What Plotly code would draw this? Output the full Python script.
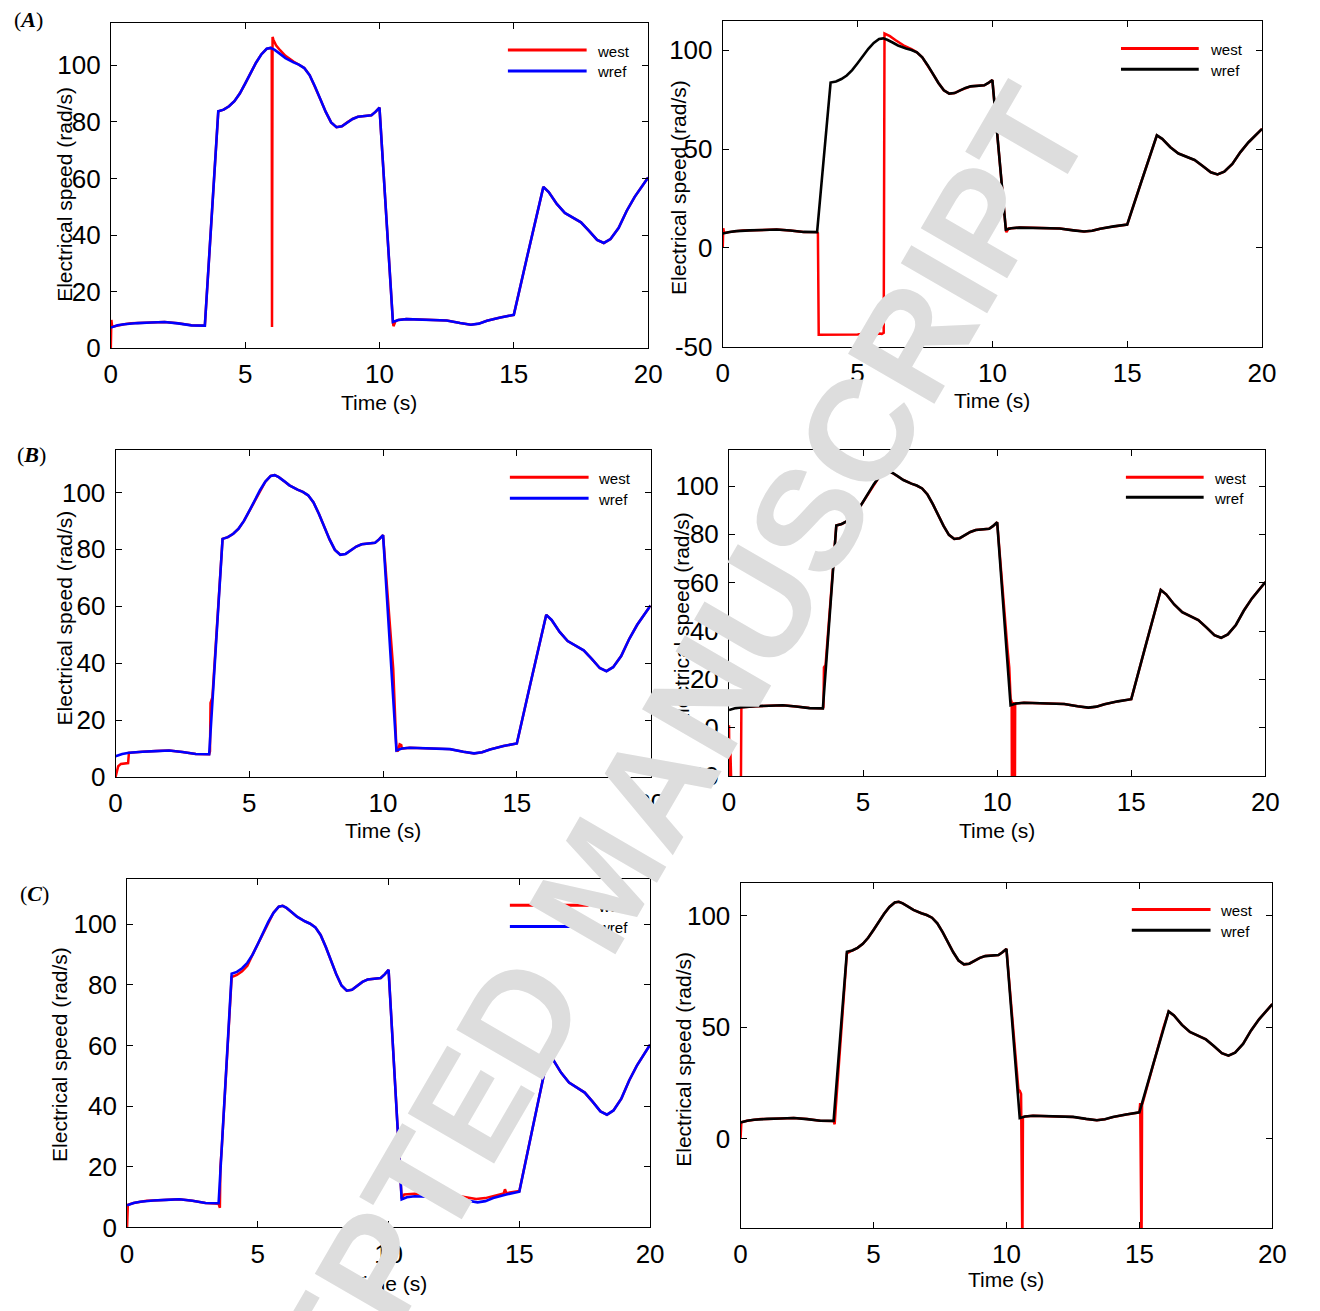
import plotly.graph_objects as go

W, H = 1320, 1311

# ---------------- data ----------------
t_ref = [0, 0.25, 0.5, 0.75, 1.0, 1.5, 2.0, 2.5, 3.0, 3.5,
         4.0, 4.2, 4.4, 4.6, 4.8, 5.0, 5.2, 5.4, 5.6, 5.8,
         5.95, 6.1, 6.3, 6.5, 6.8, 7.0, 7.2, 7.4, 7.6, 7.8,
         8.0, 8.2, 8.4, 8.6, 8.8, 9.0, 9.2, 9.5, 9.7, 9.85,
         10.0, 10.5, 10.7, 11.0, 11.5, 12.0, 12.5, 13.0, 13.4, 13.7,
         14.0, 14.5, 15.0, 15.5, 15.9, 16.1, 16.3, 16.6, 16.9, 17.2,
         17.5, 17.8, 18.1, 18.35, 18.6, 18.9, 19.2, 19.5, 19.8, 20.0]
wref = [7.3, 8.1, 8.5, 8.8, 8.9, 9.1, 9.3, 8.8, 8.1, 8.0,
        83.7, 84.3, 85.5, 87.3, 90.0, 93.5, 97.2, 100.8, 103.8, 105.8,
        106.1, 105.4, 104.0, 102.5, 101.0, 100.2, 99.0, 96.5, 92.5, 88.0,
        83.5, 79.8, 78.1, 78.4, 79.8, 81.0, 81.8, 82.1, 82.3, 83.5,
        85.0, 9.3, 10.0, 10.3, 10.2, 10.0, 9.8, 8.9, 8.3, 8.7,
        9.7, 10.9, 11.8, 32.5, 49.5, 57.0, 55.2, 51.0, 47.8, 46.2,
        44.5, 41.5, 38.3, 37.2, 38.6, 42.5, 48.5, 53.5, 57.5, 60.3]

# west: portions where the estimate departs from wref (time, value)
westA1_t = [[0, 0.02, 0.05],
            [5.99, 6.0, 6.02, 6.05, 6.15, 6.3, 6.5, 6.8],
            [10.5, 10.52, 10.6]]
westA1_v = [[0, 10, 7.6],
            [105.9, 7.5, 110, 109, 107, 105.3, 103.3, 101.3],
            [9.3, 7.8, 9.6]]

westA2_t = [[0, 0.02, 0.05],
            [3.5, 3.53, 3.56, 4.0, 4.5, 4.8, 5.0, 5.2, 5.3, 5.5, 5.6, 5.7, 5.8, 5.9, 5.97, 6.0, 6.03, 6.2, 6.4, 6.7, 7.0],
            [10.5, 10.52, 10.6]]
westA2_v = [[0, 10, 7.6],
            [8.0, 7.5, -44, -44, -44, -43.9, -43.8, -43.5, -43.9, -43.6, -43.2, -43.7, -43.3, -43.5, -43.0, 108.5, 108.3, 107.2, 105.3, 102.6, 100.6],
            [9.3, 8.0, 9.8]]

westB1_t = [[0, 0.05, 0.1, 0.2, 0.35, 0.47, 0.5],
            [3.5, 3.53, 3.55, 3.62],
            [10.38, 10.45, 10.5, 10.55, 10.62, 10.68, 10.7]]
westB1_v = [[0, 2.5, 3.8, 4.6, 4.8, 4.9, 8.5],
            [8.0, 9.0, 26.0, 28.0],
            [38, 24, 9.5, 9.0, 11.5, 11.2, 10.0]]

westB2_t = [[0, 0.02, 0.04, 0.06, 0.1, 0.44, 0.46, 0.5],
            [3.5, 3.52, 3.54, 3.6],
            [10.38, 10.45, 10.5, 10.54, 10.55, 10.58, 10.59, 10.62, 10.63, 10.66, 10.67, 10.7]]
westB2_v = [[1, -30, -5, -30, -30, -30, 8.3, 8.5],
            [8.0, 8.5, 25, 26],
            [33, 25, 12, 10.6, -30, -30, 10.6, -30, 10.5, -30, 10.2, 10.0]]

westC1_t = [[0, 0.03],
            [3.5, 3.55, 3.57, 3.62, 4.0, 4.2, 4.4, 4.6],
            [10.5, 10.6, 11.0, 11.5, 12.0, 12.5, 13.0, 13.35, 13.7, 14.0, 14.4, 14.45, 14.5, 14.55, 15.0]]
westC1_v = [[0, 7.5],
            [7.8, 6.5, 20, 26, 82.6, 83.3, 84.5, 86.3],
            [9.5, 10.9, 11.1, 11.1, 10.9, 10.6, 9.8, 9.4, 9.7, 10.4, 11.2, 12.6, 11.5, 11.4, 12.0]]

westC2_t = [[0, 0.03],
            [3.5, 3.54, 3.57, 4.0],
            [10.45, 10.5, 10.55, 10.56, 10.6, 10.62],
            [15.0, 15.03, 15.05, 15.08, 15.1]]
westC2_v = [[0, 7.4],
            [7.9, 6.5, 12, 83.0],
            [22, 21.5, 20, -50, -50, 9.6],
            [11.8, 16, -50, -50, 15.0]]

x_ticks = [0, 5, 10, 15, 20]
y_ticks_A1 = [0, 20, 40, 60, 80, 100]
y_ticks_A2 = [-50, 0, 50, 100]
y_ticks_B1 = [0, 20, 40, 60, 80, 100]
y_ticks_B2 = [-20, 0, 20, 40, 60, 80, 100]
y_ticks_C1 = [0, 20, 40, 60, 80, 100]
y_ticks_C2 = [0, 50, 100]

x_title = "Time (s)"
y_title = "Electrical speed (rad/s)"
names = ["west", "wref"]
panel_labels = ["A", "B", "C"]
watermark = "ACCEPTED MANUSCRIPT"


def splice(seg_t, seg_v):
    pts = []
    for t, v in zip(t_ref, wref):
        if any(min(st) <= t <= max(st) for st in seg_t):
            continue
        pts.append((t, v))
    for st, sv in zip(seg_t, seg_v):
        pts.extend(zip(st, sv))
    pts.sort(key=lambda p: p[0])
    return [p[0] for p in pts], [p[1] for p in pts]


# ---------------- layout of the six panels (pixels) ----------------
panels = [
    dict(box=(105.5, 23, 651.5, 352.3), yr=[0, 115], yt=y_ticks_A1, ref="#0000ff",
         west=(westA1_t, westA1_v), leg=(509, 589, 50.7, 71.7, 597),
         ytitle=(59, 197), xtitle=407),
    dict(box=(727.3, 21, 1275.3, 350.7), yr=[-50, 115], yt=y_ticks_A2, ref="#000000",
         west=(westA2_t, westA2_v), leg=(1132, 1211, 49, 70, 1220),
         ytitle=(683, 190), xtitle=405),
    dict(box=(110.3, 455, 654, 786), yr=[0, 115], yt=y_ticks_B1, ref="#0000ff",
         west=(westB1_t, westB1_v), leg=(511, 591, 482.7, 504, 599),
         ytitle=(58.5, 625), xtitle=840.5),
    dict(box=(733.7, 455, 1278.7, 785), yr=[-20, 115], yt=y_ticks_B2, ref="#000000",
         west=(westB2_t, westB2_v), leg=(1137, 1216, 482.7, 503, 1224),
         ytitle=(686, 627), xtitle=840.5),
    dict(box=(122, 889, 653.5, 1241.7), yr=[0, 115], yt=y_ticks_C1, ref="#0000ff",
         west=(westC1_t, westC1_v), leg=(511, 591, 915.7, 937.3, 599),
         ytitle=(54, 1067), xtitle=1298),
    dict(box=(745.4, 893.3, 1285.8, 1242.3), yr=[-40, 114.5], yt=y_ticks_C2, ref="#000000",
         west=(westC2_t, westC2_v), leg=(1143, 1223, 920, 941, 1231),
         ytitle=(688, 1072), xtitle=1294),
]

FONT = "Liberation Sans, Arial, sans-serif"


def px(x):
    return x / W


def py(y):
    return 1 - y / H


fig = go.Figure()
annotations = []
shapes = []
layout = {}

for i, p in enumerate(panels, start=1):
    l, t, r, b = p["box"]
    xa = "xaxis" if i == 1 else f"xaxis{i}"
    ya = "yaxis" if i == 1 else f"yaxis{i}"
    xs = "x" if i == 1 else f"x{i}"
    ys = "y" if i == 1 else f"y{i}"
    common = dict(showline=True, linecolor="#000000", linewidth=1, mirror="ticks",
                  ticks="inside", ticklen=6, tickwidth=1, tickcolor="#000000",
                  showgrid=False, zeroline=False,
                  tickfont=dict(family=FONT, size=26, color="#000000"))
    layout[xa] = dict(domain=[px(l), px(r)], range=[0, 20], tickvals=x_ticks,
                      ticktext=[str(v) for v in x_ticks],
                      anchor=ys, ticklabelstandoff=3, **common)
    layout[ya] = dict(domain=[py(b), py(t)], range=p["yr"], tickvals=p["yt"],
                      ticktext=[str(v) for v in p["yt"]],
                      anchor=xs, ticklabelstandoff=4, **common)

    wt, wv = splice(*p["west"])
    fig.add_trace(go.Scatter(x=wt, y=wv, mode="lines", name=names[0],
                             line=dict(color="#ff0000", width=2.5),
                             xaxis=xs, yaxis=ys, showlegend=False))
    fig.add_trace(go.Scatter(x=t_ref, y=wref, mode="lines", name=names[1],
                             line=dict(color=p["ref"], width=2.6),
                             xaxis=xs, yaxis=ys, showlegend=False))

    # legend drawn as shapes + text
    x0, x1, yw, yr_, xt = p["leg"]
    shapes.append(dict(type="line", xref="paper", yref="paper", x0=px(x0), x1=px(x1),
                       y0=py(yw), y1=py(yw), line=dict(color="#ff0000", width=3)))
    shapes.append(dict(type="line", xref="paper", yref="paper", x0=px(x0), x1=px(x1),
                       y0=py(yr_), y1=py(yr_), line=dict(color=p["ref"], width=3)))
    for yy, txt in ((yw, names[0]), (yr_, names[1])):
        annotations.append(dict(x=px(xt), y=py(yy + 1), xref="paper", yref="paper",
                                text=txt, showarrow=False, xanchor="left", yanchor="middle",
                                font=dict(family=FONT, size=15, color="#000000")))

    # axis titles
    ytx, yty = p["ytitle"]
    annotations.append(dict(x=px(ytx), y=py(yty), xref="paper", yref="paper",
                            text=y_title, textangle=-90, showarrow=False,
                            xanchor="center", yanchor="middle",
                            font=dict(family=FONT, size=21, color="#000000")))
    annotations.append(dict(x=px((l + r) / 2), y=py(p["xtitle"]), xref="paper", yref="paper",
                            text=x_title, showarrow=False, xanchor="center", yanchor="middle",
                            font=dict(family=FONT, size=21, color="#000000")))

# panel labels
for lab, (lx, ly) in zip(panel_labels, [(22, 20), (24.5, 460), (28, 904)]):
    annotations.append(dict(x=px(lx), y=py(ly), xref="paper", yref="paper",
                            text=f"(<b><i>{lab}</i></b>)", showarrow=False,
                            xanchor="center", yanchor="middle",
                            font=dict(family="Liberation Serif, serif", size=22, color="#000000")))

# watermark (drawn on top)
annotations.append(dict(x=px(602), y=py(892), xref="paper", yref="paper",
                        text=f"<b>{watermark}</b>", textangle=-59.9, showarrow=False,
                        xanchor="center", yanchor="middle",
                        font=dict(family=FONT, size=145, color="#dddddd")))

fig.update_layout(width=W, height=H, margin=dict(l=0, r=0, t=0, b=0),
                  paper_bgcolor="#ffffff", plot_bgcolor="#ffffff",
                  showlegend=False, annotations=annotations, shapes=shapes, **layout)

fig.write_html("out.html",
               post_script="document.body.style.margin='0';document.body.style.overflow='hidden';")
